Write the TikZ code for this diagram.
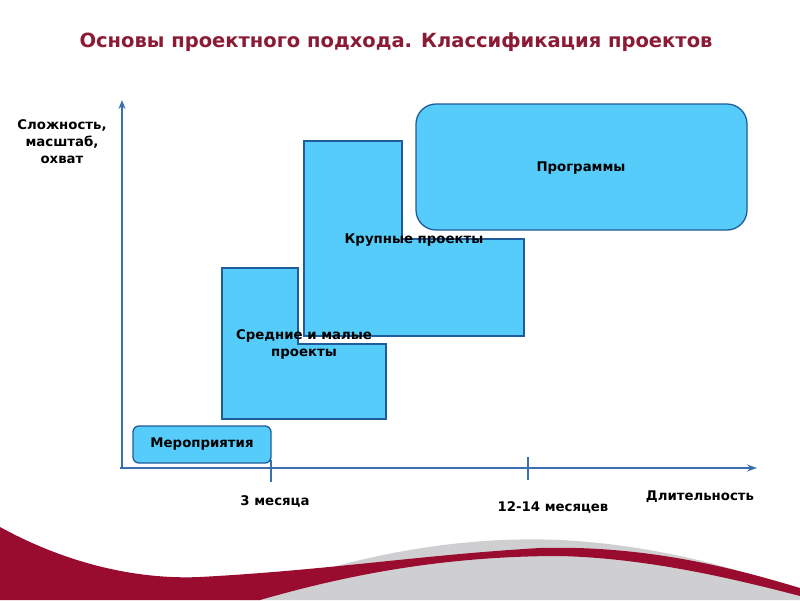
\documentclass[tikz,border=0pt]{standalone}
\usepackage{fontspec}
\setmainfont{DejaVu Sans}
\usetikzlibrary{arrows.meta}
\definecolor{boxfill}{HTML}{55CCFA}
\definecolor{boxline}{HTML}{1F5C99}
\definecolor{axis}{HTML}{3A70AD}
\definecolor{title}{HTML}{8B1A35}
\definecolor{swred}{HTML}{9A0B30}
\definecolor{swgrey}{HTML}{CFCFD2}
\tikzset{
  blk/.style={fill=boxfill,draw=boxline,line width=1.3pt},
  lbl/.style={font=\bfseries\fontsize{13.3}{17}\selectfont,align=center,inner sep=0pt},
  axl/.style={draw=axis,line width=1.6pt}
}
\begin{document}
\begin{tikzpicture}[x=1pt,y=-1pt]
\useasboundingbox (0,0) rectangle (800,600);
\fill[white] (0,0) rectangle (800,600);
% swoosh
\fill[swgrey] (240,600) .. controls (330,560) and (450,535) .. (560,540) .. controls (660,545) and (740,570) .. (800,590) -- (800,600) -- cycle;
\fill[swred] (0,527) .. controls (60,560) and (130,580) .. (200,577) .. controls (330,570) and (420,555) .. (540,548) .. controls (650,545) and (740,570) .. (800,588) -- (800,596) .. controls (720,575) and (640,558) .. (560,556) .. controls (430,556) and (330,580) .. (260,600) -- (0,600) -- cycle;
% title
\node[font=\bfseries\fontsize{19.5}{23}\selectfont,text=title,inner sep=0pt] (t) at (396,42) {Основы проектного подхода. Классификация проектов};
% axes
\coordinate (o) at (122,468);
\coordinate (yt) at (122,100);
\coordinate (xe) at (757,468);
\draw[axl,-{Stealth[length=9pt,width=7pt]}] (o) -- (yt);
\draw[axl,-{Stealth[length=10pt,width=7pt]}] (120,468) -- (xe);
\coordinate (t1a) at (271,460); \coordinate (t1b) at (271,482);
\coordinate (t2a) at (528,457); \coordinate (t2b) at (528,480);
\draw[axl,line width=1.2pt] (t1a) -- (t1b);
\draw[axl,line width=1.2pt] (t2a) -- (t2b);
% boxes
\draw[blk,rounded corners=6pt] (133,426) rectangle (271,463);
\node[lbl] (m) at (202,444) {Мероприятия};
\draw[blk] (222,268) -- (298,268) -- (298,344) -- (386,344) -- (386,419) -- (222,419) -- cycle;
\draw[blk] (304,141) -- (402,141) -- (402,239) -- (524,239) -- (524,336) -- (304,336) -- cycle;
\node[lbl] (s) at (304,344) {Средние и малые\\проекты};
\node[lbl] (k) at (414,240) {Крупные проекты};
\draw[blk,rounded corners=20pt] (416,104) rectangle (747,230);
\node[lbl] (p) at (581,168) {Программы};
% axis labels
\node[lbl,align=center] (yl) at (62,142) {Сложность,\\масштаб,\\охват};
\node[lbl] (x1) at (275,501) {3 месяца};
\node[lbl] (x2) at (553,507) {12-14 месяцев};
\node[lbl] (x3) at (700,497) {Длительность};
\end{tikzpicture}
\end{document}
